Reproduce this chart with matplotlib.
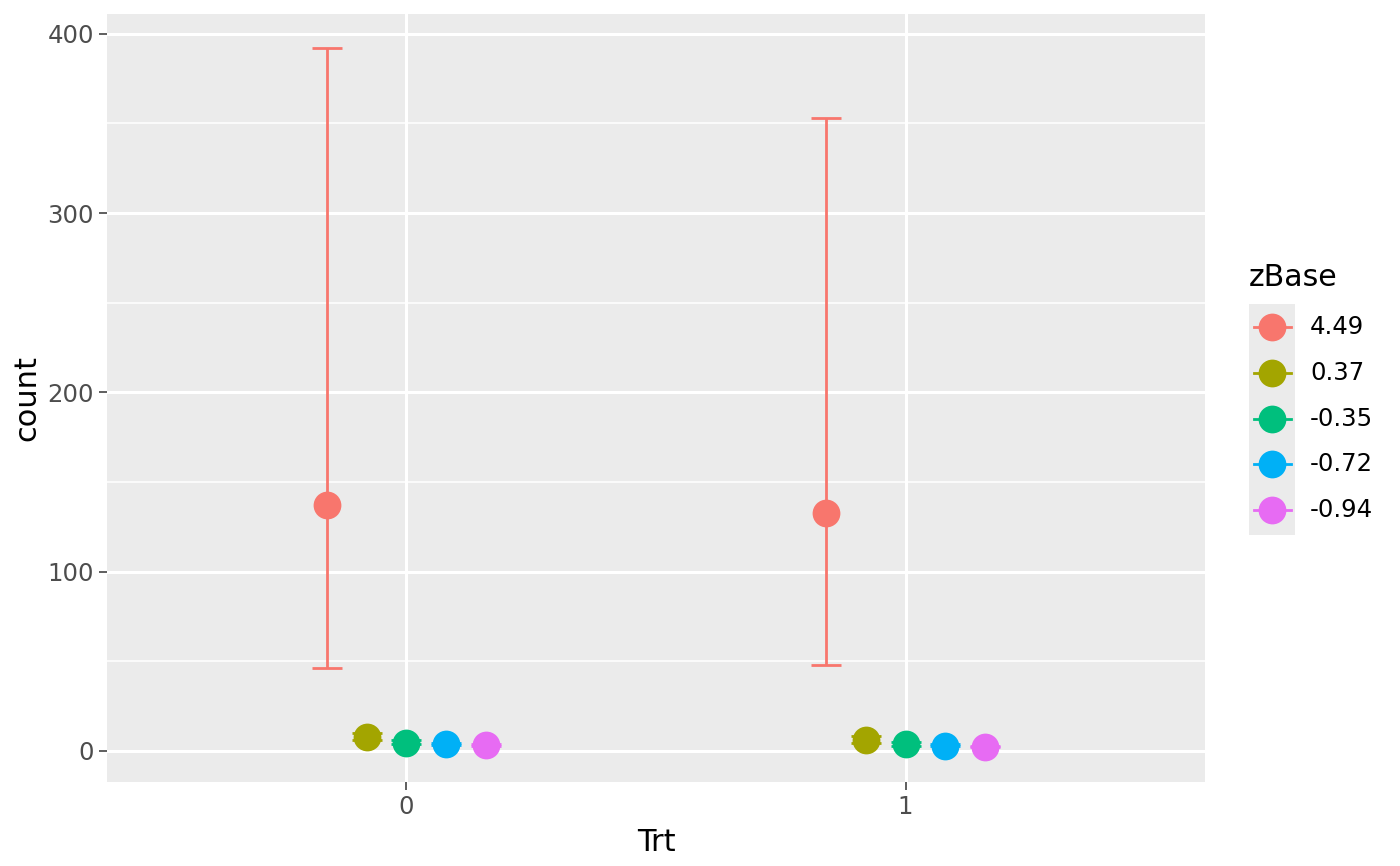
import numpy as np
import matplotlib
matplotlib.use("Agg")
import matplotlib.pyplot as plt
from matplotlib.lines import Line2D
from matplotlib.patches import Rectangle

# data
trt = [0, 1]
zbase = ['4.49', '0.37', '-0.35', '-0.72', '-0.94']
colors = ['#F8766D', '#A3A500', '#00BF7D', '#00B0F6', '#E76BF3']

mean_0 = [136.9, 7.6, 4.6, 3.7, 3.1]
lo_0 = [46.4, 6.0, 3.9, 3.3, 2.8]
hi_0 = [392.0, 10.0, 6.3, 4.6, 3.9]

mean_1 = [132.8, 6.1, 3.7, 3.0, 2.4]
lo_1 = [48.0, 4.6, 3.0, 2.6, 2.0]
hi_1 = [353.1, 8.4, 4.8, 3.8, 3.0]

means = [mean_0, mean_1]
lows = [lo_0, lo_1]
highs = [hi_0, hi_1]

W, H = 1400, 866
fig = plt.figure(figsize=(7, 4.33), dpi=200)
ax = fig.add_axes([107 / W, (H - 782) / H, (1205 - 107) / W, (782 - 14) / H])
ax.set_facecolor('#EBEBEB')

# grid
for y in [50, 150, 250, 350]:
    ax.axhline(y, color='white', lw=0.55, zorder=0)
for y in [0, 100, 200, 300, 400]:
    ax.axhline(y, color='white', lw=1.1, zorder=0)
for x in trt:
    ax.axvline(x, color='white', lw=1.1, zorder=0)

dodge = 0.08
for g, t in enumerate(trt):
    for i, lab in enumerate(zbase):
        xp = t + (i - 2) * dodge
        m = means[g][i]
        ax.errorbar([xp], [m], yerr=[[m - lows[g][i]], [highs[g][i] - m]],
                    fmt='none', ecolor=colors[i], elinewidth=1.0,
                    capsize=5.4, capthick=1.0, zorder=2)
        ax.plot([xp], [m], 'o', color=colors[i], markersize=10,
                markeredgewidth=0, zorder=3)

ax.set_xlim(-0.6, 1.6)
ax.set_ylim(-17.3, 411)
ax.set_xticks(trt)
ax.set_xticklabels([str(t) for t in trt])
ax.set_yticks([0, 100, 200, 300, 400])
for s in ax.spines.values():
    s.set_visible(False)
ax.tick_params(axis='both', length=2.75, width=0.55, color='#333333',
               labelcolor='#4D4D4D', labelsize=8.8, pad=2)
ax.set_xlabel('Trt', fontsize=11, color='black', labelpad=3)
ax.set_ylabel('count', fontsize=11, color='black', labelpad=2)

# legend drawn by hand, ggplot style
fig.text(1249 / W, 1 - 277 / H, 'zBase', fontsize=10.8, va='center', ha='left')
fig.patches.append(Rectangle((1249 / W, 1 - 535 / H), 46 / W, (535 - 304) / H,
                             transform=fig.transFigure, facecolor='#EBEBEB',
                             edgecolor='none', zorder=0))
key_y = 327
for i, lab in enumerate(zbase):
    yy = 1 - (key_y + i * 45.8) / H
    fig.lines.append(Line2D([1254 / W, 1291 / W], [yy, yy], transform=fig.transFigure,
                            color=colors[i], lw=1.0))
    fig.lines.append(Line2D([1272 / W], [yy], transform=fig.transFigure, marker='o',
                            color=colors[i], markersize=10, markeredgewidth=0))
    fig.text(1310 / W, yy, lab, fontsize=8.8, va='center', ha='left')

fig.savefig('out.png', dpi=200)
